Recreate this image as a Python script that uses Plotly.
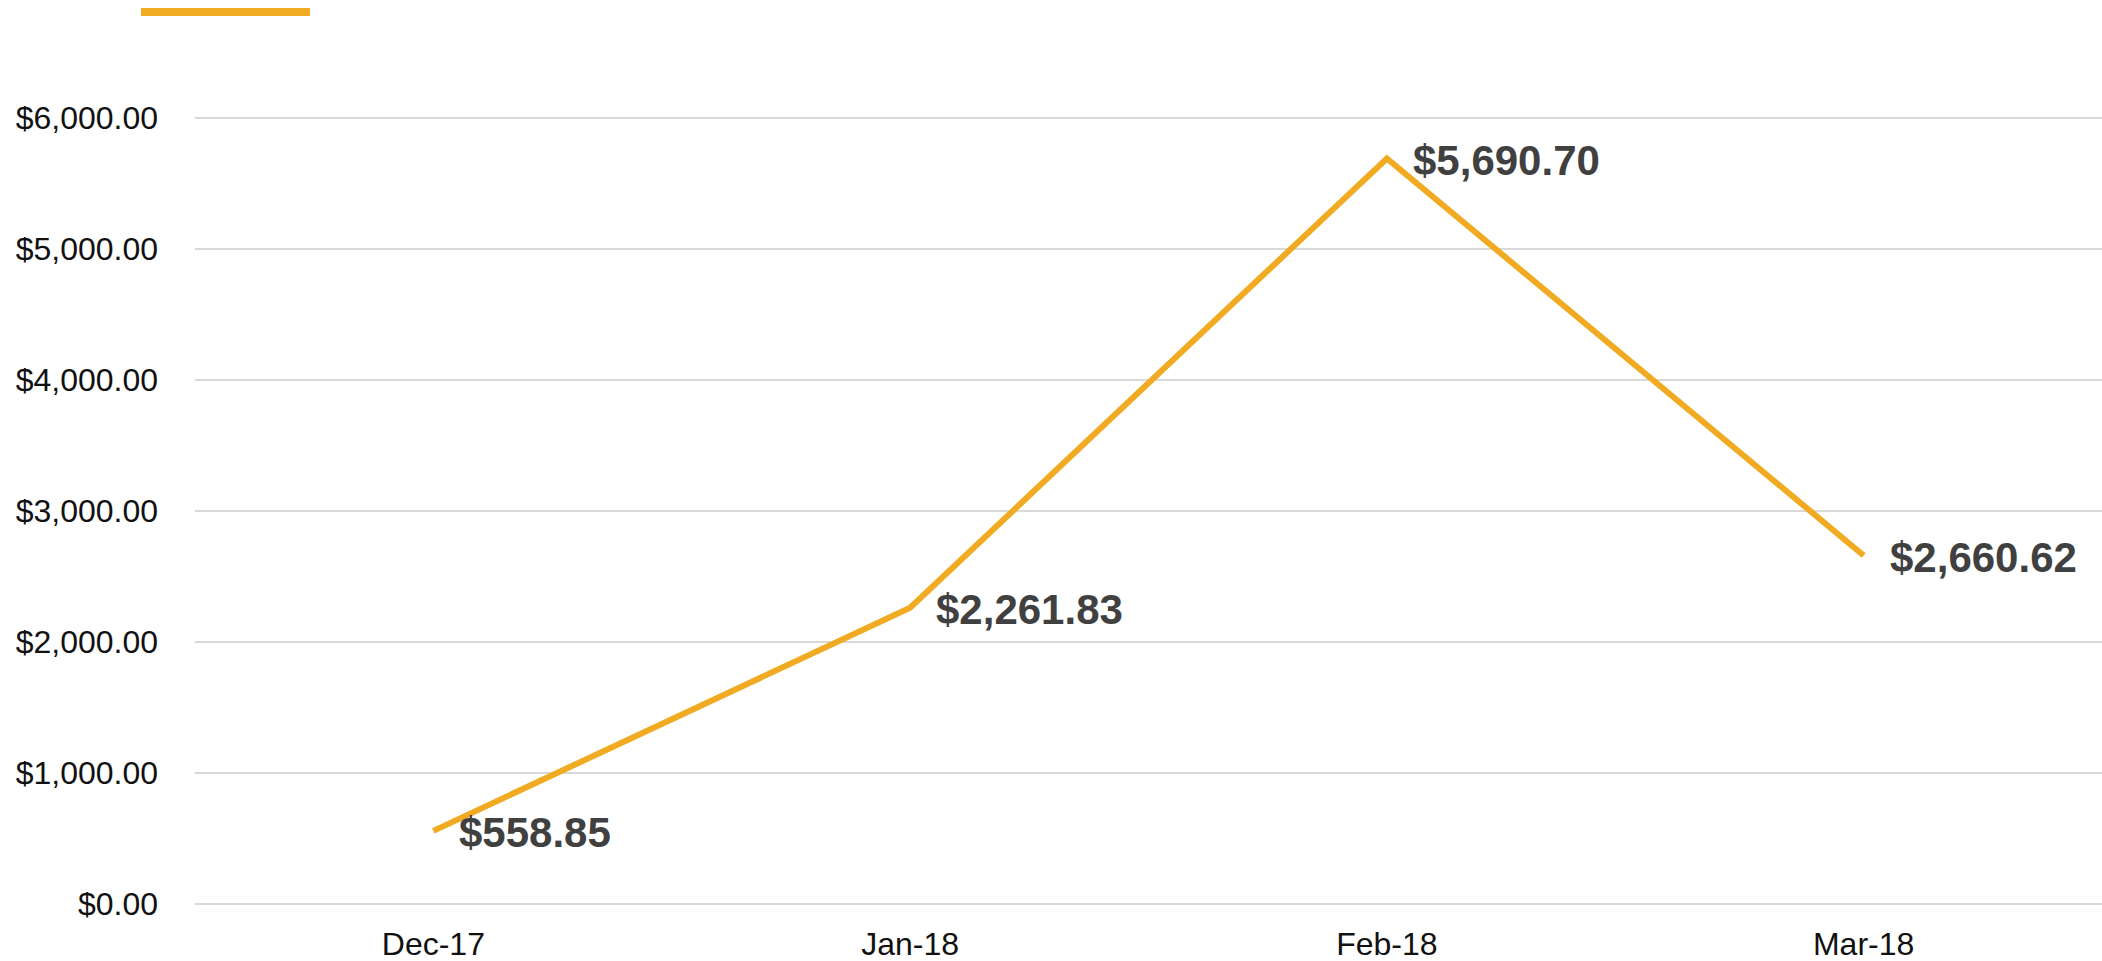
import plotly.graph_objects as go

months = ["Dec-17", "Jan-18", "Feb-18", "Mar-18"]
values = [558.85, 2261.83, 5690.70, 2660.62]
y_ticks = [0, 1000, 2000, 3000, 4000, 5000, 6000]

LINE_COLOR = "#F0AB22"
FONT = "Liberation Sans, Arial, sans-serif"

fig = go.Figure()
fig.add_trace(go.Scatter(
    x=months, y=values,
    mode="lines",
    line=dict(color=LINE_COLOR, width=6),
    showlegend=False,
    hoverinfo="skip",
))

# data labels to the right of each point
for m, v in zip(months, values):
    fig.add_annotation(
        x=m, y=v, text=f"${v:,.2f}", showarrow=False,
        xanchor="left", yanchor="middle", xshift=24, yshift=-2,
        font=dict(family=FONT, size=42, color="#404040", weight="bold"),
    )

W, H = 2102, 961
L, R, T, B = 195, 0, 114, 53
plot_w = W - L - R
plot_h = H - T - B

# legend swatch (series has no name)
fig.add_shape(type="line", xref="paper", yref="paper",
              x0=(141 - L) / plot_w, x1=(310 - L) / plot_w,
              y0=1 + (T - 12) / plot_h, y1=1 + (T - 12) / plot_h,
              line=dict(color=LINE_COLOR, width=8))

fig.update_layout(
    width=W, height=H, autosize=False,
    margin=dict(l=L, r=R, t=T, b=B, pad=0),
    plot_bgcolor="white", paper_bgcolor="white",
    font=dict(family=FONT, size=32, color="#111111"),
    xaxis=dict(
        type="category", range=[-0.5, 3.5],
        showgrid=False, zeroline=False, showline=False,
        ticks="", ticklabelstandoff=14,
        tickfont=dict(family=FONT, size=32, color="#111111"),
    ),
    yaxis=dict(
        range=[-30, 6030], tickvals=y_ticks,
        tickformat="$,.2f",
        showgrid=True, gridcolor="#D9D9D9", gridwidth=2,
        zeroline=False, showline=False, ticks="",
        ticklabelstandoff=36,
        tickfont=dict(family=FONT, size=32, color="#111111"),
    ),
)

fig.write_html(
    "out.html",
    config={"displayModeBar": False},
    post_script="document.body.style.margin='0';document.body.style.overflow='hidden';",
)
